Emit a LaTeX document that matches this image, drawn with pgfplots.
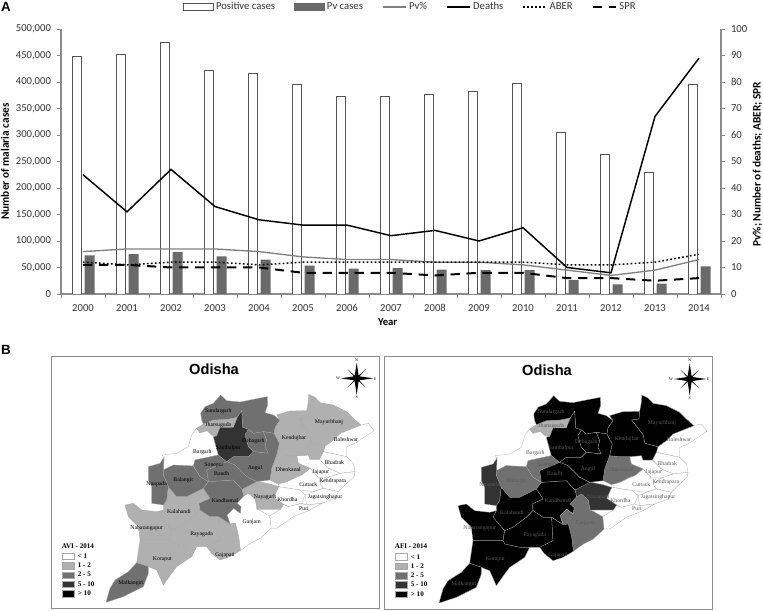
\documentclass[border=0pt]{standalone}
\usepackage{pgfplots}
\usepackage{pgfplotstable}
\usepackage{fontspec}
\pgfplotsset{compat=1.18}
\setmainfont{Carlito}
\newfontfamily\arialf{Liberation Sans}
\newfontfamily\timesf{Liberation Serif}
\definecolor{axgray}{HTML}{8C8C8C}
\definecolor{txt}{HTML}{333333}
\definecolor{barleft}{HTML}{555555}
\definecolor{pvbar}{HTML}{6A6A6A}
\definecolor{pvline}{HTML}{808080}
\definecolor{mapedge}{HTML}{A8A8A8}
\definecolor{nameg}{HTML}{5A5A5A}
\definecolor{cA}{HTML}{FFFFFF}
\definecolor{cB}{HTML}{B0B0B0}
\definecolor{cC}{HTML}{707070}
\definecolor{cD}{HTML}{333333}
\definecolor{cE}{HTML}{000000}

\pgfplotstableread{
i positive pv pvpct deaths aber spr
0 449000 73000 16 45 12 11
1 453000 75000 17 31 11 11
2 474000 79300 17 47 12 10
3 421000 71000 17 33 12 10
4 417000 65000 16 28 11 10
5 396000 53500 14 26 12 8
6 373000 48000 13 26 12 8
7 372000 49000 13 22 12 8
8 376000 46000 12 24 12 7
9 382000 45000 12 20 12 8
10 396500 45000 11 25 12 8
11 304000 26500 9 10 11 6
12 263000 18000 7 8 11 6
13 229000 19500 9 67 12 5
14 395500 52000 13 89 15 6
}\malaria

\tikzset{dist/.style={fill=#1,draw=mapedge,line width=0.2pt}}
\newcommand{\Dsund}[1]{\addplot[dist=#1] coordinates {(662,165)(680,182)(720,186)(760,178)(802,170)(803,195)(795,218)(820,225)(840,240)(825,262)(822,280)(790,275)(760,280)(745,268)(728,262)(725,212)(712,232)(680,238)(640,240)(610,252)(605,240)(602,220)(615,200)(640,190)} -- cycle;}
\newcommand{\Djhar}[1]{\addplot[dist=#1] coordinates {(712,232)(700,262)(660,262)(650,288)(635,285)(622,272)(600,278)(590,265)(610,252)(640,240)(680,238)} -- cycle;}
\newcommand{\Dsamb}[1]{\addplot[dist=#1] coordinates {(725,212)(728,262)(745,268)(735,285)(745,320)(760,335)(745,350)(700,350)(680,365)(655,345)(640,290)(650,288)(660,262)(700,262)(712,232)} -- cycle;}
\newcommand{\Ddeog}[1]{\addplot[dist=#1] coordinates {(735,285)(745,268)(760,280)(790,275)(800,300)(795,320)(805,340)(760,335)(745,320)} -- cycle;}
\newcommand{\Dangu}[1]{\addplot[dist=#1] coordinates {(745,350)(760,335)(805,340)(795,320)(800,300)(790,275)(822,280)(838,310)(830,345)(815,385)(810,420)(770,425)(740,410)(705,375)(680,365)(700,350)} -- cycle;}
\newcommand{\Dkend}[1]{\addplot[dist=#1] coordinates {(840,240)(830,225)(870,213)(920,212)(918,235)(896,238)(931,283)(936,308)(956,313)(975,318)(970,335)(958,358)(930,358)(925,345)(890,348)(860,348)(830,345)(838,310)(822,280)(825,262)} -- cycle;}
\newcommand{\Dmayu}[1]{\addplot[dist=#1] coordinates {(926,163)(945,172)(960,188)(1000,195)(1040,215)(1060,235)(1083,255)(1050,268)(1020,280)(1000,300)(975,318)(956,313)(936,308)(931,283)(896,238)(918,235)(920,212)(925,185)} -- cycle;}
\newcommand{\Dbale}[1]{\addplot[dist=#1] coordinates {(1083,255)(1105,250)(1122,272)(1095,290)(1065,310)(1040,320)(1040,350)(970,335)(975,318)(1000,300)(1020,280)(1050,268)} -- cycle;}
\newcommand{\Dbhad}[1]{\addplot[dist=#1] coordinates {(970,335)(1040,350)(1060,370)(1065,395)(1020,400)(985,385)(958,358)} -- cycle;}
\newcommand{\Djajp}[1]{\addplot[dist=#1] coordinates {(890,348)(925,345)(930,358)(958,358)(985,385)(1020,400)(985,412)(955,412)(930,385)(895,370)} -- cycle;}
\newcommand{\Ddhen}[1]{\addplot[dist=#1] coordinates {(830,345)(860,348)(890,348)(895,370)(930,385)(905,405)(890,410)(860,425)(835,432)(810,420)(815,385)} -- cycle;}
\newcommand{\Dcutt}[1]{\addplot[dist=#1] coordinates {(835,432)(860,425)(905,405)(930,385)(955,412)(985,412)(960,430)(970,445)(940,455)(900,450)(836,440)} -- cycle;}
\newcommand{\Dkenr}[1]{\addplot[dist=#1] coordinates {(985,412)(1020,400)(1065,395)(1062,410)(1040,430)(1015,455)(970,445)(960,430)} -- cycle;}
\newcommand{\Djaga}[1]{\addplot[dist=#1] coordinates {(940,455)(970,445)(1015,455)(1005,475)(965,490)(920,495)(915,465)} -- cycle;}
\newcommand{\Dnaya}[1]{\addplot[dist=#1] coordinates {(726,448)(766,423)(810,432)(836,440)(821,473)(851,493)(841,508)(771,508)(766,478)(746,460)(731,468)} -- cycle;}
\newcommand{\Dkhor}[1]{\addplot[dist=#1] coordinates {(836,440)(900,450)(915,465)(905,490)(865,500)(851,493)(821,473)} -- cycle;}
\newcommand{\Dpuri}[1]{\addplot[dist=#1] coordinates {(851,493)(865,500)(905,490)(920,495)(965,490)(930,510)(880,530)(830,565)(813,565)(809,528)(841,508)} -- cycle;}
\newcommand{\Dganj}[1]{\addplot[dist=#1] coordinates {(746,460)(766,478)(771,508)(781,512)(809,528)(813,565)(781,595)(751,610)(721,632)(716,590)(706,550)(690,552)(681,525)(701,505)(721,520)(723,500)(711,490)(731,468)} -- cycle;}
\newcommand{\Dkand}[1]{\addplot[dist=#1] coordinates {(625,425)(700,420)(726,448)(731,468)(711,490)(723,500)(721,520)(701,505)(681,525)(690,552)(656,530)(630,530)(600,510)(597,490)(630,475)(610,445)} -- cycle;}
\newcommand{\Dboud}[1]{\addplot[dist=#1] coordinates {(620,390)(680,365)(705,375)(740,410)(770,425)(726,448)(700,420)(625,425)} -- cycle;}
\newcommand{\Dsone}[1]{\addplot[dist=#1] coordinates {(585,360)(655,345)(680,365)(620,390)(625,425)(600,410)(580,378)} -- cycle;}
\newcommand{\Dbala}[1]{\addplot[dist=#1] coordinates {(490,390)(520,375)(580,378)(600,410)(625,425)(610,445)(560,470)(530,470)(505,440)(490,405)} -- cycle;}
\newcommand{\Dnuap}[1]{\addplot[dist=#1] coordinates {(445,380)(480,370)(492,352)(490,405)(505,440)(500,480)(490,495)(455,490)(455,440)(445,420)} -- cycle;}
\newcommand{\Dbarg}[1]{\addplot[dist=#1] coordinates {(590,265)(600,278)(622,272)(635,285)(650,288)(640,290)(655,345)(585,360)(580,378)(520,375)(490,390)(492,352)(486,345)(530,340)(565,320)(575,285)} -- cycle;}
\newcommand{\Dkala}[1]{\addplot[dist=#1] coordinates {(490,495)(500,480)(505,440)(530,470)(560,470)(610,445)(630,475)(597,490)(600,510)(580,530)(540,560)(515,570)(480,530)(490,510)} -- cycle;}
\newcommand{\Dnaba}[1]{\addplot[dist=#1] coordinates {(375,495)(400,490)(425,510)(470,515)(490,510)(480,530)(515,570)(510,600)(420,600)(415,560)(385,530)} -- cycle;}
\newcommand{\Draya}[1]{\addplot[dist=#1] coordinates {(515,570)(540,560)(580,530)(600,510)(630,530)(656,530)(660,600)(620,620)(590,620)(560,620)(515,610)(510,600)} -- cycle;}
\newcommand{\Dgaja}[1]{\addplot[dist=#1] coordinates {(656,530)(690,552)(706,550)(716,590)(721,632)(690,650)(660,660)(635,640)(620,620)(660,600)} -- cycle;}
\newcommand{\Dkora}[1]{\addplot[dist=#1] coordinates {(420,600)(510,600)(515,610)(560,620)(590,620)(575,650)(530,680)(515,700)(490,735)(470,690)(445,680)(410,668)} -- cycle;}
\newcommand{\Dmalk}[1]{\addplot[dist=#1] coordinates {(410,668)(445,680)(445,700)(430,740)(370,770)(318,787)(330,745)(345,720)(385,695)} -- cycle;}

\newcommand{\compass}{%
  \addplot[fill=black,draw=none] coordinates {(1070,68)(1076,107)(1098,87)(1078,109)(1120,115)(1078,121)(1098,143)(1076,123)(1070,165)(1064,123)(1042,143)(1062,121)(1023,115)(1062,109)(1042,87)(1064,107)} -- cycle;
  \node[font=\timesf\fontsize{3}{3}\selectfont,text=black] at (axis cs:1070,60) {N};
  \node[font=\timesf\fontsize{3}{3}\selectfont,text=black] at (axis cs:1070,172) {S};
  \node[font=\timesf\fontsize{3}{3}\selectfont,text=black] at (axis cs:1014,115) {W};
  \node[font=\timesf\fontsize{3}{3}\selectfont,text=black] at (axis cs:1125,117) {E};
}
% #1 colour of the district names
\newcommand{\names}[1]{%
  \foreach \x/\y/\n in {655/213/Sundargarh,655/255/Jharsuguda,760/303/Debagarh,685/323/Sambalpur,607/337/Bargarh,642/375/Sonepur,665/400/Baudh,765/385/Angul,865/388/Dhenkanal,882/295/Kendujhar,987/247/Mayurbhanj,1038/298/Baleshwar,1003/369/Bhadrak,962/396/Jajapur,925/433/Cuttack,998/424/Kendrapara,975/470/Jagatsinghapur,912/505/Puri,862/480/Khordha,795/470/Nayagarh,755/548/Ganjam,675/481/Kandhamal,550/420/Balangir,470/433/Nuapada,537/515/Kalahandi,440/563/Nabarangapur,605/583/Rayagada,675/645/Gajapati,487/657/Koraput,393/730/Malkangiri}{%
    \edef\temp{\noexpand\node[font=\noexpand\timesf\noexpand\fontsize{4.3}{4.3}\noexpand\selectfont,text=#1,inner sep=0pt] at (axis cs:\x,\y) {\n};}\temp
  }%
}
\newcommand{\maplegend}[1]{%
  \node[anchor=west,inner sep=0pt,font=\timesf\bfseries\fontsize{5.3}{5.3}\selectfont] at (axis cs:185,618) {#1};
  \addplot[dist=cA] coordinates {(185,638)(223,638)(223,658)(185,658)} -- cycle;
  \addplot[dist=cB] coordinates {(185,667)(223,667)(223,686)(185,686)} -- cycle;
  \addplot[dist=cC] coordinates {(185,695)(223,695)(223,714)(185,714)} -- cycle;
  \addplot[dist=cD] coordinates {(185,722)(223,722)(223,742)(185,742)} -- cycle;
  \addplot[dist=cE] coordinates {(185,750)(223,750)(223,770)(185,770)} -- cycle;
  \foreach \y/\n in {648/{< 1},676/{1 - 2},704/{2 - 5},732/{5 - 10},760/{> 10}}{%
    \edef\temp{\noexpand\node[anchor=west,inner sep=0pt,font=\noexpand\timesf\noexpand\bfseries\noexpand\fontsize{5.3}{5.3}\noexpand\selectfont] at (axis cs:233,\y) {\n};}\temp
  }%
}
\pgfplotsset{mapaxis/.style={
  scale only axis, width=246.25pt, height=189.5pt,
  xmin=154, xmax=1139, ymin=48, ymax=806, y dir=reverse,
  xtick=\empty, ytick=\empty, clip=false,
  axis line style={draw=axgray,line width=0.7pt}}}

\begin{document}
\begin{tikzpicture}
\path[use as bounding box] (0,0) rectangle (572.25pt,457.5pt);
\node[font=\arialf\bfseries\fontsize{10}{10}\selectfont,anchor=center] at (4.5pt,452pt) {A};
\node[font=\arialf\bfseries\fontsize{10}{10}\selectfont,anchor=center] at (4.5pt,195pt) {B};

% ---------- panel A, left scale
\begin{axis}[
  at={(45.75pt,237pt)}, anchor=south west,
  scale only axis, width=495pt, height=198.75pt,
  xmin=-0.5, xmax=14.5, ymin=0, ymax=500000,
  axis x line*=bottom, axis y line*=left,
  axis line style={draw=axgray,line width=0.8pt},
  tick style={draw=axgray,line width=0.6pt},
  tick align=outside,
  xtick={0,...,14},
  xticklabels={2000,2001,2002,2003,2004,2005,2006,2007,2008,2009,2010,2011,2012,2013,2014},
  major x tick style={draw=none},
  minor xtick={-0.5,0.5,...,14.5},
  minor tick length=3pt, major tick length=3pt,
  ytick={0,50000,...,500000},
  scaled y ticks=false,
  /pgf/number format/assume math mode=true,
  yticklabel style={/pgf/number format/fixed,/pgf/number format/1000 sep={,},text=txt,font=\fontsize{8}{8}\selectfont,xshift=-1pt},
  xticklabel style={text=txt,font=\fontsize{8}{8}\selectfont,yshift=-1.5pt},
  xlabel={Year},
  ylabel={Number of malaria cases},
  every axis x label/.style={at={(axis description cs:0.495,-0.106)},anchor=center,font=\bfseries\fontsize{8}{8}\selectfont},
  every axis y label/.style={at={(axis description cs:-0.085,0.5)},rotate=90,anchor=center,font=\bfseries\fontsize{8.5}{8.5}\selectfont},
]
\addplot[ybar,bar width=7pt,bar shift=-4.5pt,fill=white,draw=barleft,line width=0.6pt] table[x=i,y=positive] {\malaria};
\addplot[ybar,bar width=7.5pt,bar shift=5pt,fill=pvbar,draw=none] table[x=i,y=pv] {\malaria};
\end{axis}

% ---------- panel A, right scale
\begin{axis}[
  at={(45.75pt,237pt)}, anchor=south west,
  scale only axis, width=495pt, height=198.75pt,
  xmin=-0.5, xmax=14.5, ymin=0, ymax=100,
  axis x line=none, axis y line*=right,
  axis line style={draw=axgray,line width=0.8pt},
  tick style={draw=axgray,line width=0.6pt},
  tick align=outside, major tick length=3pt,
  ytick={0,10,...,100},
  /pgf/number format/assume math mode=true,
  yticklabel style={text=txt,font=\fontsize{8}{8}\selectfont,xshift=1pt},
  ylabel={Pv\%; Number of deaths; ABER; SPR},
  every axis y label/.style={at={(axis description cs:1.055,0.49)},rotate=90,anchor=center,font=\bfseries\fontsize{8.5}{8.5}\selectfont},
  legend columns=6,
  legend style={at={(axis description cs:0.53,1.112)},anchor=north,draw=none,fill=none,
    font=\fontsize{8}{8}\selectfont,text=txt,inner sep=0pt,
    /tikz/every even column/.style={column sep=12.5pt}},
]
\addlegendimage{legend image code/.code={\draw[fill=white,draw=barleft,line width=0.5pt] (0pt,-2.5pt) rectangle (22pt,2.5pt);}}
\addlegendentry{Positive cases}
\addlegendimage{legend image code/.code={\fill[pvbar] (0pt,-2.5pt) rectangle (22pt,2.5pt);}}
\addlegendentry{Pv cases}
\addplot[pvline,line width=1pt] table[x=i,y=pvpct] {\malaria};
\addlegendentry{Pv\%}
\addplot[black,line width=1.1pt] table[x=i,y=deaths] {\malaria};
\addlegendentry{Deaths}
\addplot[black,line width=1.1pt,dash pattern=on 1.3pt off 1.7pt] table[x=i,y=aber] {\malaria};
\addlegendentry{ABER}
\addplot[black,line width=1.5pt,dash pattern=on 7pt off 5pt] table[x=i,y=spr] {\malaria};
\addlegendentry{SPR}
\end{axis}

% ---------- panel B, left map
\begin{axis}[mapaxis, at={(38.5pt,1pt)}, anchor=south west]
\Dbale{cA}\Dbhad{cA}\Djajp{cA}\Dcutt{cA}\Dkenr{cA}\Djaga{cA}\Dkhor{cA}\Dpuri{cA}\Dganj{cA}\Dbarg{cA}
\Dkend{cB}\Dmayu{cB}\Ddhen{cB}\Dnaya{cB}\Dkala{cB}\Dnaba{cB}\Draya{cB}\Dgaja{cB}\Dkora{cB}\Djhar{cB}
\Dsund{cC}\Ddeog{cC}\Dangu{cC}\Dkand{cC}\Dboud{cC}\Dsone{cC}\Dbala{cC}\Dnuap{cC}\Dmalk{cC}
\Dsamb{cD}
\names{black}
\node[font=\arialf\bfseries\fontsize{11}{11}\selectfont] at (axis cs:642,88) {Odisha};
\compass
\maplegend{AVI - 2014}
\end{axis}

% ---------- panel B, right map
\begin{axis}[mapaxis, at={(288.25pt,0.5pt)}, anchor=south west]
\Dbale{cA}\Dbhad{cA}\Djajp{cA}\Dcutt{cA}\Dkenr{cA}\Djaga{cA}\Dkhor{cA}\Dpuri{cA}\Dbarg{cA}
\Djhar{cB}
\Ddhen{cC}\Dganj{cC}\Dbala{cC}\Dsone{cC}
\Dnaya{cD}\Dnuap{cD}
\Dsund{cE}\Dsamb{cE}\Ddeog{cE}\Dangu{cE}\Dkend{cE}\Dmayu{cE}\Dkand{cE}\Dboud{cE}\Dkala{cE}\Dnaba{cE}\Draya{cE}\Dgaja{cE}\Dkora{cE}\Dmalk{cE}
\names{nameg}
\node[font=\arialf\bfseries\fontsize{11}{11}\selectfont] at (axis cs:642,88) {Odisha};
\compass
\maplegend{AFI - 2014}
\end{axis}
\end{tikzpicture}
\end{document}
